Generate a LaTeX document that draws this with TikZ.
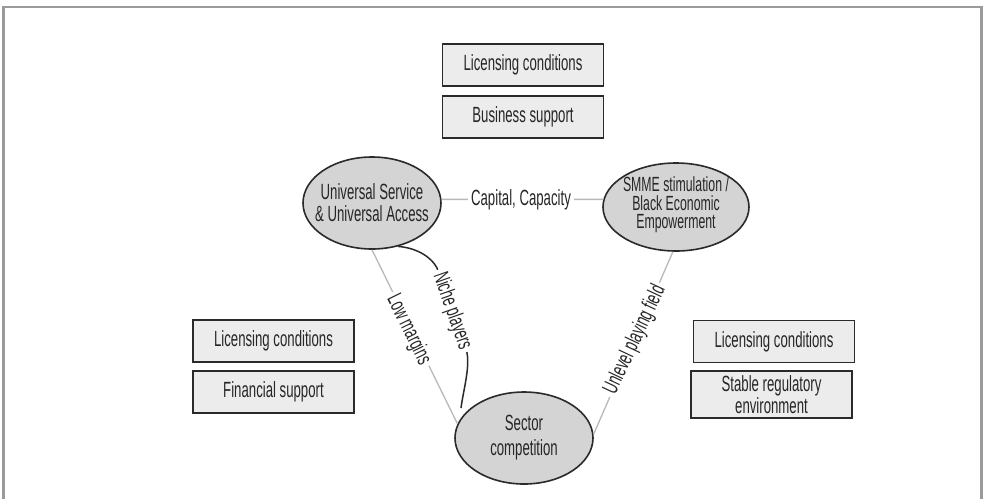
\documentclass[tikz,border=0pt]{standalone}
\usepackage{fontspec}
\setmainfont{Liberation Sans}[FakeStretch=0.6]
\usetikzlibrary{shapes.geometric}
\definecolor{framegray}{HTML}{9A9A9A}
\definecolor{ellfill}{HTML}{D4D4D4}
\definecolor{boxfill}{HTML}{ECECEC}
\definecolor{linkgray}{HTML}{B8B8B8}
\definecolor{edgec}{HTML}{2A2A2A}
\begin{document}
\begin{tikzpicture}[x=1pt,y=-1pt,
  every node/.style={font=\fontsize{22}{22}\selectfont, inner sep=0pt, text=black!85},
  ell/.style={ellipse, draw=edgec, fill=ellfill, line width=1.6pt, inner sep=0pt},
  infobox/.style={rectangle, draw=edgec, fill=boxfill, line width=1.4pt, minimum width=161pt, minimum height=42pt, align=center},
  link/.style={draw=linkgray, line width=1.3pt},
  lbl/.style={fill=white, inner sep=3.5pt}
]
\useasboundingbox (0,0) rectangle (983,499);
% frame
\draw[framegray, line width=2.6pt] (3.5,499) -- (3.5,7) -- (981.5,7) -- (981.5,499);

% ellipses
\node[ell, minimum width=138pt, minimum height=92pt] (usua) at (372,203) {};
\node[align=center] (usuat) at (usua) {Universal Service\\\& Universal Access};
\node[ell, minimum width=146pt, minimum height=88pt] (smme) at (676,207) {};
\node[align=center, font=\fontsize{20.5}{18.5}\selectfont] (smmet) at ([yshift=2pt]smme) {SMME stimulation /\\Black Economic\\Empowerment};
\node[ell, minimum width=138pt, minimum height=92pt] (sector) at (524,438) {};
\node[align=center, font=\fontsize{22}{25}\selectfont] (sectort) at (sector) {Sector\\competition};

% boxes
\node[infobox] (top1) at (523,65) {Licensing conditions};
\node[infobox] (top2) at (523,117) {Business support};
\node[infobox] (left1) at (273.5,341) {Licensing conditions};
\node[infobox] (left2) at (273.5,392) {Financial support};
\node[infobox] (right1) at (774,341.5) {Licensing conditions};
\node[infobox, minimum height=47pt, minimum width=161pt, font=\fontsize{22}{19}\selectfont] (right2) at (771.5,394.5) {Stable regulatory\\environment};

% connectors
\draw[link] (usua.3) -- (smme.174);
\node[lbl] (cap) at (521,200) {Capital, Capacity};

\draw[link] (usua.south) -- (sector.168);
\node[lbl, rotate=-63.8] (low) at (408.5,330) {Low margins};

\draw[link] (smme.-94) -- (sector.3);
\node[lbl, rotate=64.8] (unlevel) at (635,340) {Unlevel playing field};

\coordinate (nicheend) at (461,408);
\draw[edgec, line width=1.5pt] (usua.-59) .. controls (418,248) and (432,258) .. (437,268) -- (467,353) .. controls (470,368) and (463,392) .. (nicheend);
\node[lbl, rotate=-70.6] (niche) at (452,311) {Niche players};
\end{tikzpicture}
\end{document}
